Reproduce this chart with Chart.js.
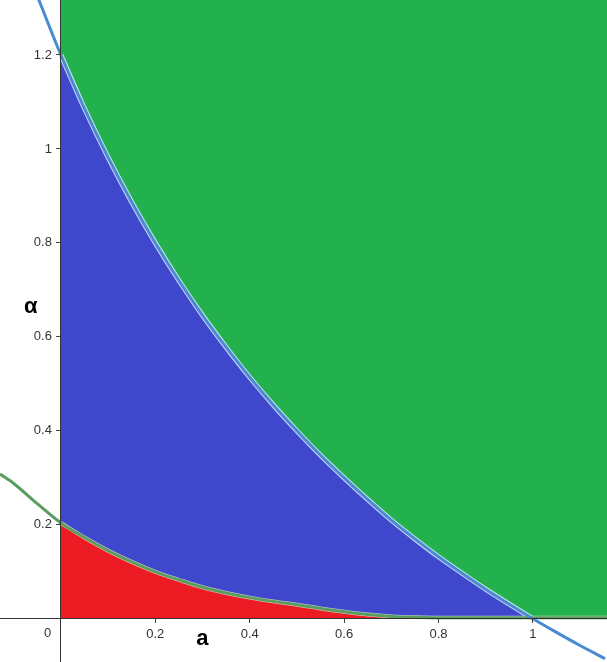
<!DOCTYPE html>
<html>
<head>
<meta charset="utf-8">
<script src="https://cdn.jsdelivr.net/npm/chart.js@4"></script>
<style>
  html, body { margin: 0; padding: 0; background: #fff; overflow: hidden; }
  #wrap { width: 607px; height: 662px; position: relative; }
</style>
</head>
<body>
<div id="wrap"><canvas id="regions"></canvas></div>
<script>
// view window (a on x, alpha on y)
const X_MIN = -0.129, X_MAX = 1.157;
const Y_MIN = -0.092, Y_MAX = 1.317;

const X_TICKS = [0.2, 0.4, 0.6, 0.8, 1];
const Y_TICKS = [0.2, 0.4, 0.6, 0.8, 1, 1.2];

// upper boundary curve (blue)
const upperA     = [-0.047, 0, 0.05, 0.1, 0.15, 0.2, 0.25, 0.3, 0.35, 0.4, 0.45, 0.5, 0.55, 0.6,
                    0.65, 0.7, 0.75, 0.8, 0.85, 0.9, 0.95, 1, 1.05, 1.1, 1.153];
const upperAlpha = [1.318, 1.2, 1.086, 0.982, 0.887, 0.8, 0.72, 0.646, 0.578, 0.514, 0.455, 0.4, 0.348, 0.3,
                    0.254, 0.21, 0.17, 0.132, 0.097, 0.063, 0.031, 0, -0.029, -0.057, -0.085];

// lower boundary curve (green)
const lowerA     = [-0.129, -0.1, -0.05, 0, 0.05, 0.1, 0.15, 0.2, 0.25, 0.3, 0.35, 0.4, 0.45, 0.5,
                    0.55, 0.6, 0.65, 0.7, 0.75, 0.8, 0.9, 1, 1.157];
const lowerAlpha = [0.308, 0.288, 0.245, 0.204, 0.173, 0.145, 0.121, 0.1, 0.083, 0.067, 0.055, 0.045, 0.037, 0.03,
                    0.022, 0.015, 0.009, 0.005, 0.003, 0.002, 0.002, 0.002, 0.002];

const pts = (xs, ys) => xs.map((x, i) => ({ x, y: ys[i] }));
const upper = pts(upperA, upperAlpha);
const lower = pts(lowerA, lowerAlpha);

const textFont = '"Liberation Sans", Arial, sans-serif';
const Y_LABEL_GAP = 9;

const axisPlugin = {
  id: 'axisLabels',
  afterLayout(chart) {
    // labels of an axis placed at a value are drawn flush on the line; push them left
    const s = chart.scales.y;
    if (s._shifted) return;
    s._shifted = true;
    const draw = s.drawLabels;
    s.drawLabels = function (area) {
      this.ctx.save();
      this.ctx.translate(-Y_LABEL_GAP, 0);
      draw.call(this, area);
      this.ctx.restore();
    };
  },
  afterDraw(chart) {
    const { ctx, scales: { x, y } } = chart;
    ctx.save();
    ctx.textAlign = 'center';
    ctx.textBaseline = 'middle';
    ctx.fillStyle = '#000';
    ctx.font = 'bold 22px ' + textFont;
    ctx.fillText('a', x.getPixelForValue(0.3), y.getPixelForValue(-0.043));
    ctx.fillText('α', x.getPixelForValue(-0.064), y.getPixelForValue(0.664));
    ctx.font = '13px ' + textFont;
    ctx.fillStyle = '#333';
    ctx.fillText('0', x.getPixelForValue(-0.028), y.getPixelForValue(-0.032));
    ctx.restore();
  }
};

const noBorder = 'rgba(0,0,0,0)';
const noPad = s => { s.paddingTop = 0; s.paddingBottom = 0; s.paddingLeft = 0; s.paddingRight = 0; };

new Chart(document.getElementById('regions'), {
  type: 'line',
  data: {
    datasets: [
      { label: 'upper curve', data: upper, borderColor: '#4a8ad0', borderWidth: 3,
        cubicInterpolationMode: 'monotone', fill: false, order: 0 },
      { label: 'lower curve', data: lower, borderColor: '#5c9c5e', borderWidth: 3,
        cubicInterpolationMode: 'monotone', fill: false, order: 1 },
      { label: 'red region', data: lower.filter(p => p.x >= 0), borderColor: 'rgba(230,240,225,0.8)', borderWidth: 4,
        cubicInterpolationMode: 'monotone', fill: 'origin', backgroundColor: '#ed1c24', order: 2 },
      { label: 'blue region', data: upper.filter(p => p.x >= 0 && p.y >= 0), borderColor: 'rgba(215,232,252,0.9)', borderWidth: 5,
        cubicInterpolationMode: 'monotone', fill: 'origin', backgroundColor: '#3f48cc', order: 3 },
      { label: 'green region', data: [{ x: 0, y: Y_MAX }, { x: X_MAX, y: Y_MAX }], borderColor: noBorder, borderWidth: 1,
        fill: 'origin', backgroundColor: '#22b14c', order: 4 }
    ]
  },
  options: {
    responsive: true,
    maintainAspectRatio: false,
    animation: false,
    layout: { padding: 0 },
    elements: { point: { radius: 0, hoverRadius: 0 } },
    plugins: { legend: { display: false }, tooltip: { enabled: false } },
    scales: {
      x: {
        type: 'linear', min: X_MIN, max: X_MAX, position: { y: 0 },
        afterBuildTicks: s => { s.ticks = X_TICKS.map(value => ({ value })); },
        afterFit: noPad,
        ticks: { callback: v => String(v), color: '#333', font: { family: textFont, size: 13 }, padding: 4, maxRotation: 0, z: 1 },
        grid: { drawOnChartArea: false, drawTicks: true, tickLength: 4, color: '#444', z: 1 },
        border: { display: true, color: '#333', width: 1, z: 1 }
      },
      y: {
        type: 'linear', min: Y_MIN, max: Y_MAX, position: { x: 0 },
        afterBuildTicks: s => { s.ticks = Y_TICKS.map(value => ({ value })); },
        afterFit: noPad,
        ticks: { callback: v => String(v), color: '#333', font: { family: textFont, size: 13 }, padding: 5, z: 1 },
        grid: { drawOnChartArea: false, drawTicks: true, tickLength: 4, color: '#444', z: 1 },
        border: { display: true, color: '#333', width: 1, z: 1 }
      }
    }
  },
  plugins: [axisPlugin]
});
</script>
</body>
</html>
